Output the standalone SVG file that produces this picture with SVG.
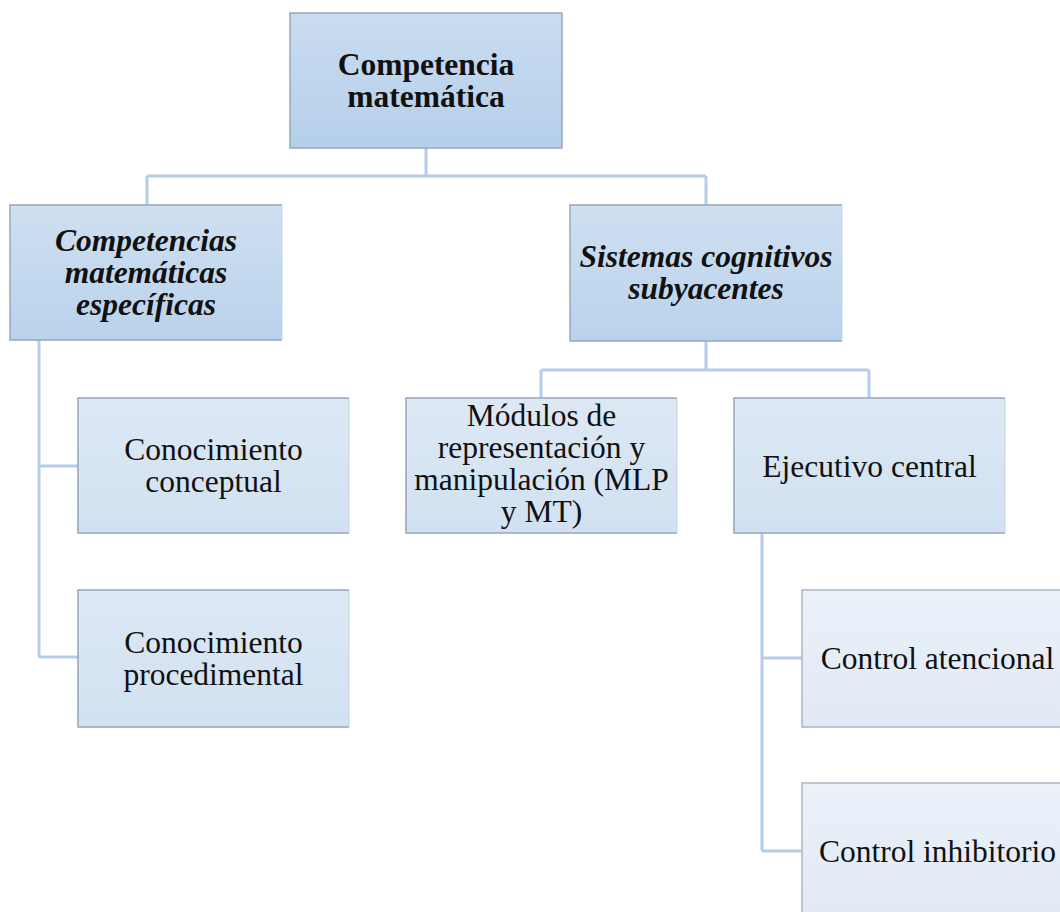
<svg xmlns="http://www.w3.org/2000/svg" width="1060" height="912" viewBox="0 0 1060 912">
<defs>
<linearGradient id="g1" x1="0" y1="0" x2="0" y2="1"><stop offset="0" stop-color="#cadcf0"/><stop offset="1" stop-color="#b5cfea"/></linearGradient>
<linearGradient id="g2" x1="0" y1="0" x2="0" y2="1"><stop offset="0" stop-color="#cfe0f1"/><stop offset="1" stop-color="#b9d2ec"/></linearGradient>
<linearGradient id="g3" x1="0" y1="0" x2="0" y2="1"><stop offset="0" stop-color="#dde8f4"/><stop offset="1" stop-color="#d1e1f1"/></linearGradient>
<linearGradient id="g4" x1="0" y1="0" x2="0" y2="1"><stop offset="0" stop-color="#eaf1f9"/><stop offset="1" stop-color="#e0e9f5"/></linearGradient>
</defs>
<style>
.edge{fill:none;stroke:#96a6b8;stroke-width:1.5}
.redge{fill:none;stroke:#c4d3e3;stroke-width:1}
.conn{fill:none;stroke:#b6cdea;stroke-width:3}
text{font-family:"Liberation Serif","Times New Roman",serif;font-size:31.5px;fill:#111;text-anchor:middle}
.b{font-weight:bold}
.bi{font-weight:bold;font-style:italic}
</style>
<g id="connectors">
<path class="conn" d="M426 148V176M147 176H706M147 176V205M706 176V205"/>
<path class="conn" d="M39 340V657M39 466H78M39 657H78"/>
<path class="conn" d="M706 341V370M541 370H869M541 370V398M869 370V398"/>
<path class="conn" d="M762 533V851M762 658H802M762 851H802"/>
</g>
<g id="n-competencia">
<rect x="290" y="13" width="272" height="135" fill="url(#g1)"/>
<path class="edge" d="M562 13H290V148H562V13"/>
<text class="b" x="426" y="75">Competencia</text>
<text class="b" x="426" y="107">matemática</text>
</g>
<g id="n-especificas">
<rect x="10" y="205" width="272" height="135" fill="url(#g2)"/>
<path class="edge" d="M282 205H10V340H282"/>
<path class="redge" d="M282 205V340"/>
<text class="bi" x="146" y="251">Competencias</text>
<text class="bi" x="146" y="283">matemáticas</text>
<text class="bi" x="146" y="315">específicas</text>
</g>
<g id="n-sistemas">
<rect x="570" y="205" width="272" height="136" fill="url(#g2)"/>
<path class="edge" d="M842 205H570V341H842"/>
<path class="redge" d="M842 205V341"/>
<text class="bi" x="706" y="267">Sistemas cognitivos</text>
<text class="bi" x="706" y="299">subyacentes</text>
</g>
<g id="n-conceptual">
<rect x="78" y="398" width="271" height="135" fill="url(#g3)"/>
<path class="edge" d="M349 398H78V533H349"/>
<path class="redge" d="M349 398V533"/>
<text x="213.5" y="460">Conocimiento</text>
<text x="213.5" y="492">conceptual</text>
</g>
<g id="n-procedimental">
<rect x="78" y="590" width="271" height="137" fill="url(#g3)"/>
<path class="edge" d="M349 590H78V727H349"/>
<path class="redge" d="M349 590V727"/>
<text x="213.5" y="653">Conocimiento</text>
<text x="213.5" y="685">procedimental</text>
</g>
<g id="n-modulos">
<rect x="406" y="398" width="271" height="135" fill="url(#g3)"/>
<path class="edge" d="M677 398H406V533H677"/>
<path class="redge" d="M677 398V533"/>
<text x="541.5" y="426">Módulos de</text>
<text x="541.5" y="458">representación y</text>
<text x="541.5" y="490">manipulación (MLP</text>
<text x="541.5" y="522">y MT)</text>
</g>
<g id="n-ejecutivo">
<rect x="734" y="398" width="271" height="135" fill="url(#g3)"/>
<path class="edge" d="M1005 398H734V533H1005"/>
<path class="redge" d="M1005 398V533"/>
<text x="869.5" y="477">Ejecutivo central</text>
</g>
<g id="n-atencional">
<rect x="802" y="590" width="271" height="137" fill="url(#g4)"/>
<path class="edge" d="M1073 590H802V727H1073" style="stroke:#a9b6c4"/>
<text x="937.5" y="669">Control atencional</text>
</g>
<g id="n-inhibitorio">
<rect x="802" y="783" width="271" height="137" fill="url(#g4)"/>
<path class="edge" d="M1073 783H802V920" style="stroke:#a9b6c4"/>
<text x="937.5" y="862">Control inhibitorio</text>
</g>
</svg>
